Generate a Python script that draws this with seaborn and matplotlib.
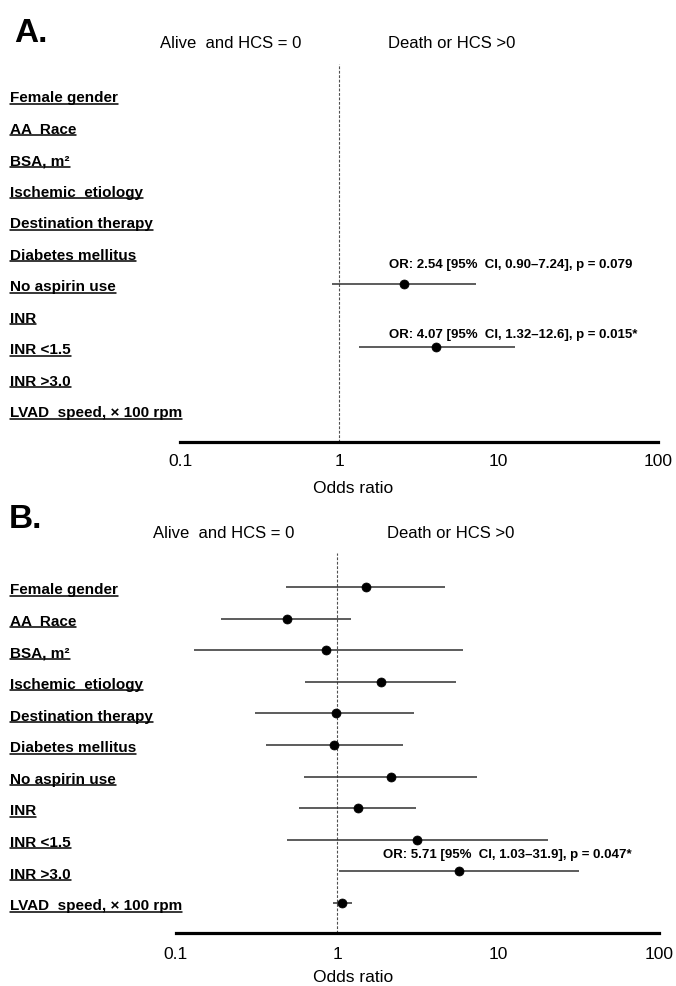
import matplotlib
matplotlib.use("Agg")
import matplotlib.pyplot as plt
import matplotlib.font_manager as fm
import matplotlib.transforms as mtrans
from matplotlib.lines import Line2D
import numpy as np
import pandas as pd
import seaborn as sns

# row labels (same in both panels)
labels = ["Female gender", "AA  Race", "BSA, m\u00b2", "Ischemic  etiology",
          "Destination therapy", "Diabetes mellitus", "No aspirin use", "INR",
          "INR <1.5", "INR >3.0", "LVAD  speed, \u00d7 100 rpm"]

# panel A: only the two variables kept in the model
a_rows = ["No aspirin use", "INR <1.5"]
a_or = [2.54, 4.07]
a_lo = [0.90, 1.32]
a_hi = [7.24, 12.6]
a_notes = ["OR: 2.54 [95%  CI, 0.90\u20137.24], p = 0.079",
           "OR: 4.07 [95%  CI, 1.32\u201312.6], p = 0.015*"]

# panel B: all variables
b_or = [1.52, 0.49, 0.86, 1.88, 0.98, 0.96, 2.16, 1.35, 3.15, 5.71, 1.07]
b_lo = [0.48, 0.19, 0.13, 0.63, 0.31, 0.36, 0.62, 0.58, 0.49, 1.03, 0.95]
b_hi = [4.70, 1.23, 6.10, 5.50, 3.00, 2.57, 7.40, 3.10, 20.3, 31.9, 1.24]
b_notes = ["OR: 5.71 [95%  CI, 1.03\u201331.9], p = 0.047*"]

xticks = [0.1, 1, 10, 100]
xticklabels = ["0.1", "1", "10", "100"]

sns.set_style("white")
names = {f.name for f in fm.fontManager.ttflist}
narrow = "Liberation Sans Narrow" if "Liberation Sans Narrow" in names else "Liberation Sans"
plt.rcParams["font.family"] = ["Liberation Sans", "DejaVu Sans"]
plt.rcParams["text.color"] = "black"
plt.rcParams["xtick.color"] = "black"
plt.rcParams["xtick.labelcolor"] = "black"

W, H = 676, 986
fig = plt.figure(figsize=(W / 100, H / 100), dpi=100)

def px(x, y):
    return x / W, 1 - y / H

def panel(rect, ylim, df, notes, note_pos, letter, letter_xy, head_y, alive_x, death_x, tick_pad, olab_y):
    ax = fig.add_axes(rect)
    ax.set_xscale("log")
    ax.set_xlim(0.1, 100)
    ax.set_ylim(*ylim)
    ax.axvline(1, color="#505050", lw=0.8, ls=(0, (2.5, 1.5)), zorder=1)
    ax.hlines(df["row"], df["lo"], df["hi"], color="#303030", lw=1.1, zorder=2)
    sns.scatterplot(data=df, x="or", y="row", color="black", s=42,
                    edgecolor="black", zorder=3, ax=ax, legend=False)
    for txt, (nx, ny) in zip(notes, note_pos):
        ax.text(nx, ny, txt, family=[narrow, "DejaVu Sans"], fontweight="bold",
                fontsize=9.5, ha="left", va="center")
    for s in ["top", "right", "left"]:
        ax.spines[s].set_visible(False)
    ax.spines["bottom"].set_linewidth(2.3)
    ax.spines["bottom"].set_color("black")
    ax.set_xticks(xticks)
    ax.set_xticklabels(xticklabels)
    ax.minorticks_off()
    ax.tick_params(axis="x", length=0, pad=tick_pad, labelsize=12.5)
    ax.set_yticks([])
    ax.set_xlabel("")
    ax.set_ylabel("")
    # row labels on the left, in figure x / data y
    tr = mtrans.blended_transform_factory(fig.transFigure, ax.transData)
    texts = []
    for i, lab in enumerate(labels):
        texts.append(ax.text(10 / W, i + 0.1, lab, transform=tr, fontsize=11,
                             fontweight="bold", ha="left", va="center"))
    fig.text(*px(*letter_xy), letter, fontsize=24, fontweight="bold", ha="left", va="center")
    fig.text(*px(alive_x, head_y), "Alive  and HCS = 0", fontsize=12, ha="center", va="center")
    fig.text(*px(death_x, head_y), "Death or HCS >0", fontsize=12, ha="left", va="center")
    fig.text(*px(353, olab_y), "Odds ratio", fontsize=12.5, ha="center", va="center")
    return texts

rows = {lab: i for i, lab in enumerate(labels)}
df_a = pd.DataFrame({"row": [rows[r] for r in a_rows], "or": a_or, "lo": a_lo, "hi": a_hi})
df_b = pd.DataFrame({"row": np.arange(len(labels)), "or": b_or, "lo": b_lo, "hi": b_hi})

# panel A: x 180-658 px, y 64-442 px, rows at 95 + 31.5*i
ta = panel([180 / W, 1 - 442 / H, 478 / W, 378 / H], (11.02, -0.98), df_a,
           a_notes, [(2.05, 5.40), (2.05, 7.62)], "A.", (14, 33), 43, 231, 388, 9, 488)
# panel B: x 176-659 px, y 553-933 px, rows at 587 + 31.6*i
tb = panel([176 / W, 1 - 933 / H, 483 / W, 380 / H], (10.95, -1.076), df_b,
           b_notes, [(1.93, 8.48)], "B.", (9, 520), 533, 224, 387, 10, 977)

# underline the row labels
fig.canvas.draw()
ren = fig.canvas.get_renderer()
for t in ta + tb:
    bb = t.get_window_extent(ren)
    y = bb.y0 + 1.5
    fig.add_artist(Line2D([bb.x0 / W, bb.x1 / W], [y / H, y / H], transform=fig.transFigure,
                          color="black", lw=1.1))

fig.savefig("out.png", dpi=100)
